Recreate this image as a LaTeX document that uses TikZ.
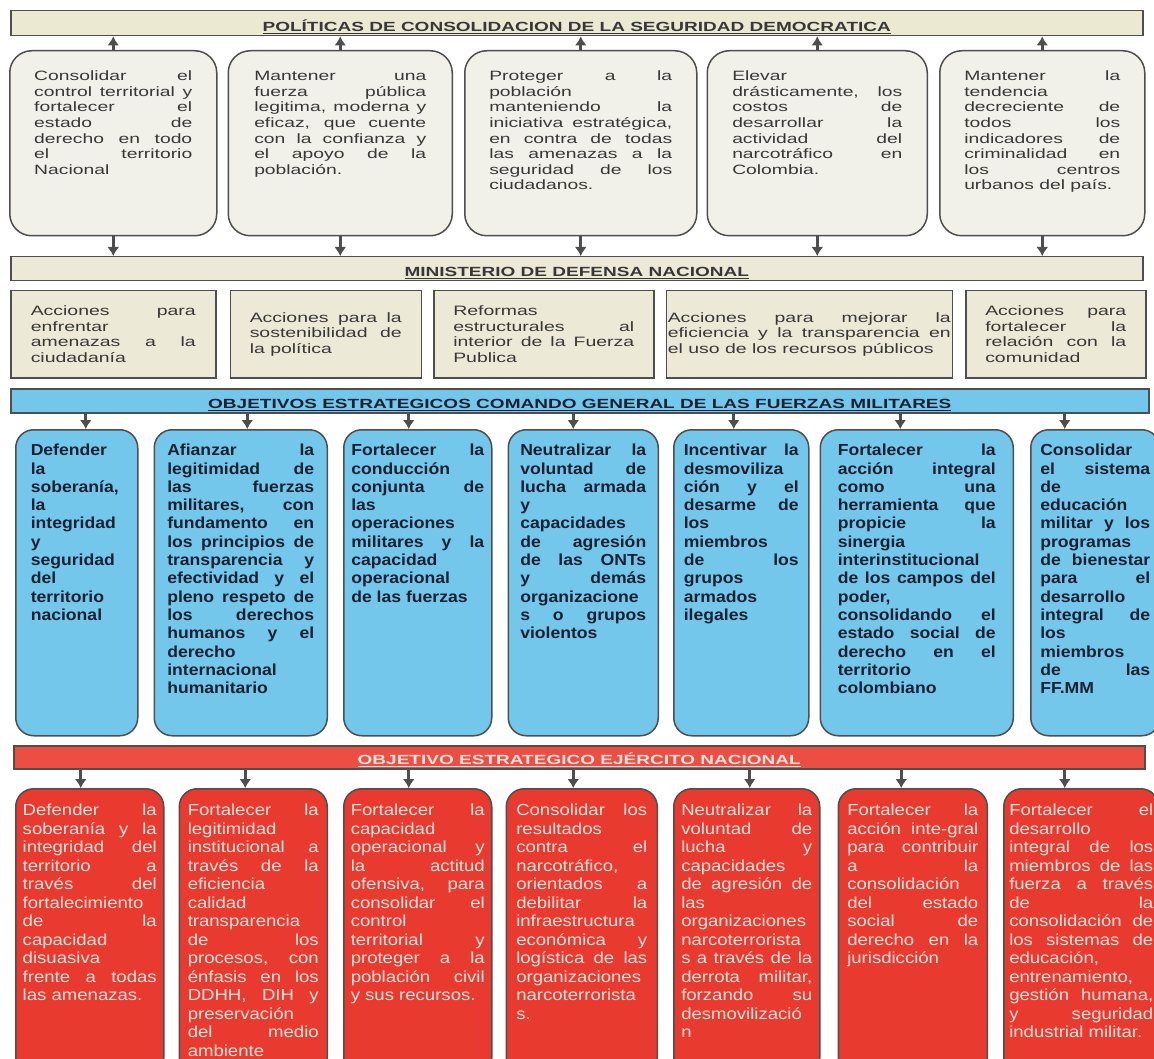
\documentclass[tikz,border=0pt]{standalone}
\usepackage{fontspec}
\setmainfont{Liberation Sans}
\newfontfamily\widefont{Liberation Sans}[FakeStretch=1.43]
\newfontfamily\bluefont{Liberation Sans}[FakeStretch=1.1]
\newfontfamily\redfont{Liberation Sans}[FakeStretch=1.16]
\usepackage{tikz}
\usetikzlibrary{positioning}
\usetikzlibrary{arrows.meta}

\definecolor{creambar}{RGB}{236,233,211}
\definecolor{creambox}{RGB}{242,241,233}
\definecolor{creamact}{RGB}{236,233,215}
\definecolor{skyblue}{RGB}{115,199,235}
\definecolor{firered}{RGB}{232,58,46}
\definecolor{firebar}{RGB}{235,78,66}
\definecolor{edgegrey}{RGB}{78,78,78}
\definecolor{inkgrey}{RGB}{55,55,55}
\definecolor{inkblue}{RGB}{25,32,50}
\definecolor{inkpink}{RGB}{253,228,222}

\tolerance=10000
\hbadness=10000
\hyphenpenalty=10000
\exhyphenpenalty=10000

\begin{document}
\begin{tikzpicture}[x=1pt, y=-1pt]
    \tikzstyle{bar} = [rectangle, draw=edgegrey, line width=1.5pt, anchor=north west,
    inner ysep=0pt, text height=21pt, text depth=4pt,
    font=\widefont\bfseries\fontsize{13.3}{15}\selectfont]
    \tikzstyle{policy} = [rectangle, draw=edgegrey, line width=1.5pt, fill=creambox,
    rounded corners=22pt, inner sep=0pt, align=justify, text=inkgrey,
    text height=30pt, text depth=155pt, font=\widefont\fontsize{13.5}{15.6}\selectfont]
    \tikzstyle{action} = [rectangle, draw=edgegrey, line width=1.5pt, fill=creamact,
    inner sep=0pt, align=justify, text=inkgrey, minimum height=87pt,
    font=\widefont\fontsize{13.6}{15.7}\selectfont]
    \tikzstyle{goal} = [rectangle, draw=edgegrey, line width=1.5pt, fill=skyblue,
    rounded corners=18pt, inner sep=0pt, align=justify, text=inkblue,
    text height=26pt, text depth=280pt, font=\bluefont\bfseries\fontsize{16}{18.3}\selectfont]
    \tikzstyle{aim} = [rectangle, draw=edgegrey, line width=1.5pt, fill=firered,
    rounded corners=18pt, inner sep=0pt, align=justify, text=inkpink,
    text height=27pt, text depth=260pt, font=\redfont\fontsize{16}{18.5}\selectfont]
    \tikzstyle{line} = [draw=edgegrey, line width=3pt, -{Latex[length=9pt,width=12pt]}]
    \useasboundingbox (0,0) rectangle (1154,1059);
    \clip (0,0) rectangle (1154,1059);
    \node [bar, fill=creambar, text=inkgrey, minimum width=1132pt] (polbar) at (10,10)
    {\underline{POLÍTICAS DE CONSOLIDACION DE LA SEGURIDAD DEMOCRATICA}};
    \node [policy, anchor=north west, minimum width=207pt, text width=158pt] (p1) at (9,50)
    {Consolidar el\linebreak control territorial y\linebreak fortalecer el\linebreak estado de\linebreak
    derecho en todo\linebreak el territorio\linebreak Nacional};
    \node [policy, right=10pt of p1, minimum width=224pt, text width=172pt] (p2)
    {Mantener una\linebreak fuerza pública\linebreak legitima, moderna y\linebreak eficaz, que cuente\linebreak
    con la confianza y\linebreak el apoyo de la\linebreak población.};
    \node [policy, right=11pt of p2, minimum width=232pt, text width=183pt] (p3)
    {Proteger a la\linebreak población\linebreak manteniendo la\linebreak iniciativa estratégica,\linebreak
    en contra de todas\linebreak las amenazas a la\linebreak seguridad de los\linebreak ciudadanos.};
    \node [policy, right=9pt of p3, minimum width=220pt, text width=170pt] (p4)
    {Elevar\linebreak drásticamente, los\linebreak costos de\linebreak desarrollar la\linebreak
    actividad del\linebreak narcotráfico en\linebreak Colombia.};
    \node [policy, right=11pt of p4, minimum width=205pt, text width=156pt] (p5)
    {Mantener la\linebreak tendencia\linebreak decreciente de\linebreak todos los\linebreak
    indicadores de\linebreak criminalidad en\linebreak los centros\linebreak urbanos del país.};
    \node [bar, fill=creamact, text=inkgrey, minimum width=1132pt, text height=20pt] (mindef) at (10,256)
    {\underline{MINISTERIO DE DEFENSA NACIONAL}};
    \node [action, anchor=north west, minimum width=205pt, text width=165pt] (a1) at (10,290)
    {Acciones para\linebreak enfrentar\linebreak amenazas a la\linebreak ciudadanía};
    \node [action, right=13pt of a1, minimum width=191pt, text width=152pt] (a2)
    {Acciones para la\linebreak sostenibilidad de\linebreak la política};
    \node [action, right=11pt of a2, minimum width=220pt, text width=181pt] (a3)
    {Reformas\linebreak estructurales al\linebreak interior de la Fuerza\linebreak Publica};
    \node [action, right=11pt of a3, minimum width=286pt, text width=283pt] (a4)
    {Acciones para mejorar la\linebreak eficiencia y la transparencia en\linebreak el uso de los recursos públicos};
    \node [action, right=12pt of a4, minimum width=180pt, text width=141pt] (a5)
    {Acciones para\linebreak fortalecer la\linebreak relación con la\linebreak comunidad};
    \node [bar, fill=skyblue, text=inkblue, minimum width=1138pt, text height=20pt] (objbar) at (10,388)
    {\underline{OBJETIVOS ESTRATEGICOS COMANDO GENERAL DE LAS FUERZAS MILITARES}};
    \node [goal, anchor=north west, minimum width=122pt, text width=92pt] (g1) at (15,429)
    {Defender\linebreak la\linebreak soberanía,\linebreak la\linebreak integridad\linebreak y\linebreak
    seguridad\linebreak del\linebreak territorio\linebreak nacional};
    \node [goal, right=15pt of g1, minimum width=173pt, text width=147pt] (g2)
    {Afianzar la\linebreak legitimidad de\linebreak las fuerzas\linebreak militares, con\linebreak
    fundamento en\linebreak los principios de\linebreak transparencia y\linebreak efectividad y el\linebreak
    pleno respeto de\linebreak los derechos\linebreak humanos y el\linebreak derecho\linebreak
    internacional\linebreak humanitario};
    \node [goal, right=15pt of g2, minimum width=148pt, text width=133pt] (g3)
    {Fortalecer la\linebreak conducción\linebreak conjunta de\linebreak las\linebreak operaciones\linebreak
    militares y la\linebreak capacidad\linebreak operacional\linebreak de las fuerzas};
    \node [goal, right=15pt of g3, minimum width=150pt, text width=126pt] (g4)
    {Neutralizar la\linebreak voluntad de\linebreak lucha armada\linebreak y\linebreak capacidades\linebreak
    de agresión\linebreak de las ONTs\linebreak y demás\linebreak organizacione\linebreak s o grupos\linebreak
    violentos};
    \node [goal, right=14pt of g4, minimum width=135pt, text width=115pt] (g5)
    {Incentivar la\linebreak desmoviliza\linebreak ción y el\linebreak desarme de\linebreak los\linebreak
    miembros\linebreak de los\linebreak grupos\linebreak armados\linebreak ilegales};
    \node [goal, right=10pt of g5, minimum width=193pt, text width=158pt] (g6)
    {Fortalecer la\linebreak acción integral\linebreak como una\linebreak herramienta que\linebreak
    propicie la\linebreak sinergia\linebreak interinstitucional\linebreak de los campos del\linebreak
    poder,\linebreak consolidando el\linebreak estado social de\linebreak derecho en el\linebreak
    territorio\linebreak colombiano};
    \node [goal, right=16pt of g6, minimum width=129pt, text width=110pt] (g7)
    {Consolidar\linebreak el sistema\linebreak de\linebreak educación\linebreak militar y los\linebreak
    programas\linebreak de bienestar\linebreak para el\linebreak desarrollo\linebreak integral de\linebreak
    los\linebreak miembros\linebreak de las\linebreak FF.MM};
    \node [bar, fill=firebar, text=inkpink, minimum width=1131pt, text height=19pt] (ejbar) at (13,745)
    {\underline{OBJETIVO ESTRATEGICO EJÉRCITO NACIONAL}};
    \node [aim, anchor=north west, minimum width=148pt, text width=134pt] (r1) at (15,788)
    {Defender la\linebreak soberanía y la\linebreak integridad del\linebreak territorio a\linebreak
    través del\linebreak fortalecimiento\linebreak de la\linebreak capacidad\linebreak disuasiva\linebreak
    frente a todas\linebreak las amenazas.};
    \node [aim, right=14pt of r1, minimum width=148pt, text width=131pt] (r2)
    {Fortalecer la\linebreak legitimidad\linebreak institucional a\linebreak través de la\linebreak
    eficiencia\linebreak calidad\linebreak transparencia\linebreak de los\linebreak procesos, con\linebreak
    énfasis en los\linebreak DDHH, DIH y\linebreak preservación\linebreak del medio\linebreak ambiente};
    \node [aim, right=15pt of r2, minimum width=148pt, text width=134pt] (r3)
    {Fortalecer la\linebreak capacidad\linebreak operacional y\linebreak la actitud\linebreak
    ofensiva, para\linebreak consolidar el\linebreak control\linebreak territorial y\linebreak
    proteger a la\linebreak población civil\linebreak y sus recursos.};
    \node [aim, right=13pt of r3, minimum width=151pt, text width=131pt] (r4)
    {Consolidar los\linebreak resultados\linebreak contra el\linebreak narcotráfico,\linebreak
    orientados a\linebreak debilitar la\linebreak infraestructura\linebreak económica y\linebreak
    logística de las\linebreak organizaciones\linebreak narcoterrorista\linebreak s.};
    \node [aim, right=15pt of r4, minimum width=146pt, text width=131pt] (r5)
    {Neutralizar la\linebreak voluntad de\linebreak lucha y\linebreak capacidades\linebreak
    de agresión de\linebreak las\linebreak organizaciones\linebreak narcoterrorista\linebreak
    s a través de la\linebreak derrota militar,\linebreak forzando su\linebreak desmovilizació\linebreak n};
    \node [aim, right=17pt of r5, minimum width=149pt, text width=131pt] (r6)
    {Fortalecer la\linebreak acción inte-gral\linebreak para contribuir\linebreak a la\linebreak
    consolidación\linebreak del estado\linebreak social de\linebreak derecho en la\linebreak jurisdicción};
    \node [aim, right=15pt of r6, minimum width=155pt, text width=144pt] (r7)
    {Fortalecer el\linebreak desarrollo\linebreak integral de los\linebreak miembros de las\linebreak
    fuerza a través\linebreak de la\linebreak consolidación de\linebreak los sistemas de\linebreak
    educación,\linebreak entrenamiento,\linebreak gestión humana,\linebreak y seguridad\linebreak
    industrial militar.};
    \path [line] (p1.north) -- (p1.north |- polbar.south);
    \path [line] (p2.north) -- (p2.north |- polbar.south);
    \path [line] (p3.north) -- (p3.north |- polbar.south);
    \path [line] (p4.north) -- (p4.north |- polbar.south);
    \path [line] (p5.north) -- (p5.north |- polbar.south);
    \path [line] (p1.south) -- (p1.south |- mindef.north);
    \path [line] (p2.south) -- (p2.south |- mindef.north);
    \path [line] (p3.south) -- (p3.south |- mindef.north);
    \path [line] (p4.south) -- (p4.south |- mindef.north);
    \path [line] (p5.south) -- (p5.south |- mindef.north);
    \path [line] ([xshift=9pt]g1.north |- objbar.south) -- ([xshift=9pt]g1.north);
    \path [line] ([xshift=6.5pt]g2.north |- objbar.south) -- ([xshift=6.5pt]g2.north);
    \path [line] ([xshift=-9pt]g3.north |- objbar.south) -- ([xshift=-9pt]g3.north);
    \path [line] ([xshift=-10pt]g4.north |- objbar.south) -- ([xshift=-10pt]g4.north);
    \path [line] ([xshift=-7.5pt]g5.north |- objbar.south) -- ([xshift=-7.5pt]g5.north);
    \path [line] ([xshift=-16.5pt]g6.north |- objbar.south) -- ([xshift=-16.5pt]g6.north);
    \path [line] ([xshift=-30.5pt]g7.north |- objbar.south) -- ([xshift=-30.5pt]g7.north);
    \path [line] ([xshift=-9pt]r1.north |- ejbar.south) -- ([xshift=-9pt]r1.north);
    \path [line] ([xshift=-8pt]r2.north |- ejbar.south) -- ([xshift=-8pt]r2.north);
    \path [line] ([xshift=-9pt]r3.north |- ejbar.south) -- ([xshift=-9pt]r3.north);
    \path [line] ([xshift=-8.5pt]r4.north |- ejbar.south) -- ([xshift=-8.5pt]r4.north);
    \path [line] ([xshift=3pt]r5.north |- ejbar.south) -- ([xshift=3pt]r5.north);
    \path [line] ([xshift=-11.5pt]r6.north |- ejbar.south) -- ([xshift=-11.5pt]r6.north);
    \path [line] ([xshift=-16.5pt]r7.north |- ejbar.south) -- ([xshift=-16.5pt]r7.north);
\end{tikzpicture}
\end{document}
